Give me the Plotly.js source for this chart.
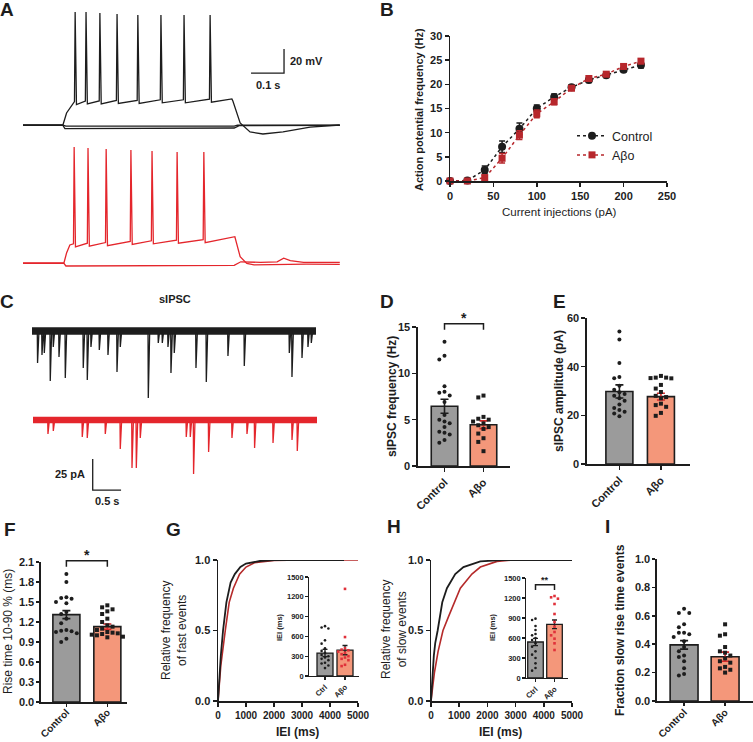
<!DOCTYPE html>
<html>
<head>
<meta charset="utf-8">
<script src="https://cdn.plot.ly/plotly-3.0.1.min.js"></script>
<style>body{margin:0;background:#fff}#chart{width:753px;height:742px}</style>
</head>
<body>
<div id="chart"></div>
<script>
// ---- A: current-clamp sweeps (time s, membrane potential mV) ----
let ctrlSpikeT = [0.158, 0.191, 0.233, 0.285, 0.348, 0.418, 0.488, 0.567];
let ctrlSpikePeak = [24.2, 24.2, 23.3, 22.5, 21.7, 21.7, 21.7, 21.7];
let ctrlSpikeBase = [-50.5, -50, -50, -49.5, -49.5, -49, -49, -48.5];
let ctrlEnvT = [0, 0.121, 0.132, 0.148, 0.633, 0.636, 0.658, 0.688, 0.727, 0.788, 0.87, 0.96];
let ctrlEnvV = [-70, -70, -60, -53, -48.3, -50, -68.3, -75.8, -77.5, -75.8, -71.7, -70];
let ctrlHypT = [0, 0.121, 0.127, 0.64, 0.655, 0.96];
let ctrlHypV = [-70.3, -70.3, -73, -72.5, -70.5, -70.3];
let ctrlSubT = [0, 0.121, 0.13, 0.64, 0.65, 0.96];
let ctrlSubV = [-70.2, -70.2, -71, -71, -70.2, -70.2];

let abSpikeT = [0.155, 0.197, 0.252, 0.327, 0.391, 0.467, 0.548];
let abSpikePeak = [26.7, 25.8, 25.0, 24.2, 23.3, 22.5, 22.5];
let abSpikeBase = [-54, -53.5, -53, -52, -51.5, -51, -50.5];
let abEnvT = [0, 0.124, 0.132, 0.142, 0.642, 0.658, 0.678, 0.70, 0.78, 0.86, 0.96];
let abEnvV = [-70, -70, -61.7, -55, -48.1, -64.7, -70.3, -71.5, -71, -71, -71.2];
let abHypT = [0, 0.124, 0.13, 0.64, 0.66, 0.72, 0.77, 0.79, 0.81, 0.85, 0.96];
let abHypV = [-70.3, -70.3, -72.5, -72, -69, -69.5, -69, -66, -68, -69.5, -69.5];

// ---- B: f-I curve ----
let currents = [0, 20, 40, 60, 80, 100, 120, 140, 160, 180, 200, 220];
let ctrlFreq = [0, 0.1, 2.3, 7.1, 10.8, 15.0, 17.4, 19.4, 20.9, 21.9, 23.0, 24.0];
let ctrlFreqSem = [0, 0.1, 0.8, 1.2, 1.2, 0.7, 0.6, 0.5, 0.5, 0.5, 0.4, 0.6];
let abFreq = [0, 0, 0.7, 4.7, 9.5, 13.9, 16.4, 19.2, 21.2, 22.1, 23.7, 24.8];
let abFreqSem = [0, 0, 0.5, 1.0, 0.9, 0.8, 0.6, 0.5, 0.5, 0.5, 0.4, 0.5];

// ---- C: sIPSC events (time s, amplitude pA) ----
let ctrlEvT = [0.093, 0.171, 0.212, 0.317, 0.370, 0.471, 0.582, 0.899, 0.970, 1.035, 1.182, 1.335, 1.494, 1.552, 2.046, 2.222, 2.293, 2.393, 2.446, 2.504, 2.887, 3.069, 3.451, 3.739, 4.533, 4.580, 4.757, 4.862, 4.921];
let ctrlEvAmp = [-25.8, -19.4, -17.7, -40.3, -12.9, -21.0, -37.9, -29.8, -39.5, -12.9, -15.3, -19.4, -33.1, -12.9, -54.0, -9.7, -9.7, -12.9, -33.9, -17.7, -29.8, -41.1, -20.2, -28.2, -17.7, -37.1, -21.8, -12.9, -9.7];
let abEvT = [0.259, 0.353, 0.864, 0.952, 1.270, 1.534, 1.741, 1.817, 1.887, 2.698, 2.769, 2.827, 3.092, 3.504, 3.769, 3.903, 4.228, 4.563, 4.656];
let abEvAmp = [-11.3, -8.9, -13.7, -14.5, -11.3, -23.4, -38.7, -38.7, -14.5, -13.7, -13.7, -43.5, -25.8, -14.5, -11.3, -22.6, -18.5, -16.1, -25.0];

// ---- D: sIPSC frequency (Hz) ----
let dMean = [6.45, 4.45];
let dSem = [0.75, 0.42];
let dCtrl = [13.4, 11.9, 11.5, 8.6, 8.0, 7.9, 7.6, 6.9, 5.5, 5.0, 4.8, 4.6, 4.2, 3.7, 3.6, 3.4, 2.8, 2.5];
let dAb = [7.6, 7.4, 5.3, 5.1, 5.0, 4.8, 4.6, 4.4, 4.2, 4.0, 3.5, 3.0, 2.6, 1.6];

// ---- E: sIPSC amplitude (pA) ----
let eMean = [29.8, 27.7];
let eSem = [2.7, 1.4];
let eCtrl = [54.5, 51.2, 41.5, 35.8, 35.2, 32.2, 30.5, 29.5, 28.8, 28.0, 27.0, 26.0, 24.5, 23.0, 22.2, 21.5, 20.8, 19.6];
let eAb = [36.2, 35.5, 35.5, 35.3, 35.2, 32.5, 31.0, 29.6, 28.0, 27.5, 27.0, 24.8, 24.2, 23.5, 21.0, 19.8];

// ---- F: rise time 10-90 % (ms) ----
let fMean = [1.31, 1.13];
let fSem = [0.06, 0.04];
let fCtrl = [1.92, 1.80, 1.57, 1.56, 1.55, 1.50, 1.48, 1.35, 1.32, 1.25, 1.18, 1.08, 1.07, 1.06, 1.05, 1.03, 0.95, 0.90];
let fAb = [1.45, 1.42, 1.39, 1.36, 1.32, 1.25, 1.20, 1.15, 1.13, 1.10, 1.08, 1.05, 1.04, 1.03, 1.02, 1.01, 1.00, 0.98, 0.97];

// ---- G: fast events, cumulative IEI ----
let gCtrlIei = [0, 50, 100, 180, 300, 450, 600, 800, 1000, 1500, 2000, 4500];
let gCtrlCum = [0, 0.17, 0.32, 0.5, 0.7, 0.84, 0.9, 0.95, 0.975, 0.993, 1, 1];
let gAbIei = [0, 50, 100, 260, 400, 550, 770, 1000, 1300, 2000, 3000, 5000];
let gAbCum = [0, 0.13, 0.25, 0.5, 0.7, 0.8, 0.9, 0.95, 0.98, 0.997, 1, 1];
let giMean = [348, 392];
let giSem = [55, 70];
let giCtrl = [755, 735, 720, 540, 490, 420, 380, 350, 320, 300, 280, 260, 240, 200, 190, 160, 120];
let giAb = [1320, 590, 420, 400, 390, 370, 350, 330, 300, 280, 260, 240, 170, 150];

// ---- H: slow events, cumulative IEI ----
let hCtrlIei = [0, 50, 100, 150, 236, 400, 565, 860, 1150, 1750, 2500, 5000];
let hCtrlCum = [0, 0.2, 0.32, 0.41, 0.5, 0.7, 0.8, 0.9, 0.95, 0.99, 1, 1];
let hAbIei = [0, 50, 120, 250, 425, 625, 825, 1040, 1450, 1750, 2340, 2900, 5000];
let hAbCum = [0, 0.1, 0.2, 0.35, 0.5, 0.6, 0.7, 0.8, 0.9, 0.95, 0.99, 1, 1];
let hiMean = [540, 805];
let hiSem = [55, 65];
let hiCtrl = [890, 870, 780, 720, 660, 640, 600, 570, 520, 470, 400, 350, 300, 220, 150, 110];
let hiAb = [1230, 1210, 1190, 1110, 960, 840, 770, 690, 640, 590, 520, 420];

// ---- I: fraction of slow rise time events ----
let iMean = [0.395, 0.312];
let iSem = [0.03, 0.032];
let iCtrl = [0.65, 0.62, 0.62, 0.54, 0.52, 0.48, 0.48, 0.47, 0.45, 0.42, 0.38, 0.35, 0.32, 0.31, 0.28, 0.23, 0.19, 0.18];
let iAb = [0.54, 0.47, 0.46, 0.38, 0.35, 0.34, 0.32, 0.30, 0.28, 0.27, 0.24, 0.23, 0.22, 0.20];

let groups = ['Control', 'A\u03b2o'];
let groupsShort = ['Ctrl', 'A\u03b2o'];

const W = 753, H = 742;
const FONT = 'Liberation Sans, Arial, sans-serif';
const INK = '#1d1d1d', GREY = '#9b9b9b', SALMON = '#f4977a';
const RED = '#e4262c', BRICK = '#b7272c', DOTRED = '#e0313a';

let layout = {
    width: W, height: H,
    margin: {l: 0, r: 0, t: 0, b: 0},
    paper_bgcolor: '#fff', plot_bgcolor: 'rgba(0,0,0,0)',
    barmode: 'overlay',
    font: {family: FONT, color: INK},
    showlegend: true,
    legend: {x: 572 / W, y: 1 - 121 / H, xanchor: 'left', yanchor: 'top', bgcolor: 'rgba(0,0,0,0)',
        font: {family: FONT, size: 12.5, color: INK}, tracegroupgap: 0, itemwidth: 30},
    shapes: [], annotations: []
};
let data = [];

// panel boxes in pixels, with their data ranges
let panels = {
    A1: {px: [23, 340], py: [5, 145], xr: [0, 317 / 330], yr: [-70 - 20 / 1.2, -70 + 120 / 1.2]},
    A2: {px: [23, 340], py: [140, 280], xr: [0, 317 / 330], yr: [-70 - 17 / 1.2, -70 + 123 / 1.2]},
    B: {px: [450, 667], py: [36, 181], xr: [0, 250], yr: [0, 30]},
    C1: {px: [32, 316], py: [308, 402], xr: [0, 284 / 56.7], yr: [-71 / 1.24, 23 / 1.24]},
    C2: {px: [33, 317], py: [400, 495], xr: [0, 284 / 56.7], yr: [-75 / 1.24, 20 / 1.24]},
    D: {px: [418, 510], py: [327, 466], xr: [-0.68, 1.68], yr: [0, 15]},
    E: {px: [587, 690], py: [318, 464], xr: [-0.78, 1.7], yr: [0, 60]},
    F: {px: [41, 127], py: [562, 702], xr: [-0.62, 1.48], yr: [0, 2.1]},
    G: {px: [218, 358], py: [560, 701], xr: [0, 5000], yr: [0, 1]},
    Gi: {px: [309, 359], py: [577, 676], xr: [-0.8, 1.7], yr: [0, 1500]},
    Hm: {px: [431, 572], py: [560, 701], xr: [0, 5000], yr: [0, 1]},
    Hi: {px: [526, 568], py: [578, 678], xr: [-0.5, 1.71], yr: [0, 1500]},
    I: {px: [657, 753], py: [559, 701], xr: [-0.66, 1.68], yr: [0, 1]}
};

function axStyle(fs) {
    return {showline: true, linecolor: INK, linewidth: 1.5, ticks: 'outside', ticklen: 4, tickwidth: 1.5,
        tickcolor: INK, showgrid: false, zeroline: false, fixedrange: true,
        tickfont: {family: FONT, size: fs, color: INK, weight: 'bold'}};
}

let n = 0;
Object.keys(panels).forEach(k => {
    n++;
    let p = panels[k];
    p.xa = n === 1 ? 'x' : 'x' + n;
    p.ya = n === 1 ? 'y' : 'y' + n;
    layout[n === 1 ? 'xaxis' : 'xaxis' + n] = Object.assign(axStyle(11), {domain: [p.px[0] / W, p.px[1] / W], range: p.xr, anchor: p.ya});
    layout[n === 1 ? 'yaxis' : 'yaxis' + n] = Object.assign(axStyle(11), {domain: [1 - p.py[1] / H, 1 - p.py[0] / H], range: p.yr, anchor: p.xa});
    p.xk = n === 1 ? 'xaxis' : 'xaxis' + n;
    p.yk = n === 1 ? 'yaxis' : 'yaxis' + n;
});
['A1', 'A2', 'C1', 'C2'].forEach(k => {
    layout[panels[k].xk].visible = false;
    layout[panels[k].yk].visible = false;
});

function pxX(p, v) { return p.px[0] + (v - p.xr[0]) / (p.xr[1] - p.xr[0]) * (p.px[1] - p.px[0]); }
function pxY(p, v) { return p.py[1] - (v - p.yr[0]) / (p.yr[1] - p.yr[0]) * (p.py[1] - p.py[0]); }

function note(text, x, y, o) {
    layout.annotations.push(Object.assign({text: text, x: x / W, y: 1 - y / H, xref: 'paper', yref: 'paper',
        showarrow: false, xanchor: 'center', yanchor: 'middle',
        font: {family: FONT, size: 11, color: INK, weight: 'bold'}}, o || {}));
}

// ---- A ----
function buildSweep(envT, envV, spT, spPeak, spBase) {
    let pts = envT.map((t, i) => [t, envV[i]]);
    spT.forEach((t, i) => {
        pts.push([t - 0.002, spBase[i]], [t, spPeak[i]], [t + 0.004, spBase[i] - 2.5]);
    });
    pts.sort((a, b) => a[0] - b[0]);
    return {x: pts.map(q => q[0]), y: pts.map(q => q[1])};
}
function line(p, x, y, color, width, extra) {
    return Object.assign({type: 'scatter', mode: 'lines', x: x, y: y, xaxis: p.xa, yaxis: p.ya,
        line: {color: color, width: width}, showlegend: false, hoverinfo: 'skip'}, extra || {});
}
let cs = buildSweep(ctrlEnvT, ctrlEnvV, ctrlSpikeT, ctrlSpikePeak, ctrlSpikeBase);
let as = buildSweep(abEnvT, abEnvV, abSpikeT, abSpikePeak, abSpikeBase);
data.push(line(panels.A1, ctrlSubT, ctrlSubV, INK, 1.3));
data.push(line(panels.A1, ctrlHypT, ctrlHypV, INK, 1.3));
data.push(line(panels.A1, cs.x, cs.y, INK, 1.3));
data.push(line(panels.A2, abHypT, abHypV, RED, 1.3));
data.push(line(panels.A2, as.x, as.y, RED, 1.3));

// scale bar 0.1 s / 20 mV
let sbT = 0.791, sbV = -26.7;
layout.shapes.push({type: 'path', xref: panels.A1.xa, yref: panels.A1.ya,
    path: `M ${sbT - 0.1} ${sbV} L ${sbT} ${sbV} L ${sbT} ${sbV + 20}`, line: {color: INK, width: 1.3}});
note('20 mV', 288, 61, {xanchor: 'left'});
note('0.1 s', 268, 85);

// ---- C ----
function buildEvents(evT, evAmp, tEnd) {
    let x = [0], y = [0];
    evT.forEach((t, i) => { x.push(t, t + 0.005, t + 0.03); y.push(0, evAmp[i], 0); });
    x.push(tEnd); y.push(0);
    return {x: x, y: y};
}
let tEnd = 284 / 56.7;
data.push(line(panels.C1, [0, tEnd], [0, 0], INK, 7.5));
let ce = buildEvents(ctrlEvT, ctrlEvAmp, tEnd);
data.push(line(panels.C1, ce.x, ce.y, INK, 1.3));
data.push(line(panels.C2, [0, tEnd], [0, 0], RED, 6.5));
let ae = buildEvents(abEvT, abEvAmp, tEnd);
data.push(line(panels.C2, ae.x, ae.y, RED, 1.3));
// scale bar 0.5 s / 25 pA
let cbT = 1.053, cbV = -56.5;
layout.shapes.push({type: 'path', xref: panels.C2.xa, yref: panels.C2.ya,
    path: `M ${cbT} ${cbV + 25} L ${cbT} ${cbV} L ${cbT + 0.5} ${cbV}`, line: {color: INK, width: 1.3}});
note('25 pA', 70, 474);
note('0.5 s', 107, 501);
note('sIPSC', 175, 299);

// ---- B ----
let pB = panels.B;
data.push({type: 'scatter', mode: 'lines+markers', name: 'Control', x: currents, y: ctrlFreq, xaxis: pB.xa, yaxis: pB.ya,
    line: {color: INK, width: 1.5, dash: 'dot'}, marker: {symbol: 'circle', size: 8, color: INK},
    error_y: {type: 'data', array: ctrlFreqSem, color: INK, thickness: 1.5, width: 3}, cliponaxis: false});
data.push({type: 'scatter', mode: 'lines+markers', name: 'A\u03b2o', x: currents, y: abFreq, xaxis: pB.xa, yaxis: pB.ya,
    line: {color: BRICK, width: 1.5, dash: 'dot'}, marker: {symbol: 'square', size: 7, color: BRICK},
    error_y: {type: 'data', array: abFreqSem, color: BRICK, thickness: 1.5, width: 3}, cliponaxis: false});
Object.assign(layout[pB.xk], {tickvals: [0, 50, 100, 150, 200, 250]});
Object.assign(layout[pB.yk], {tickvals: [0, 5, 10, 15, 20, 25, 30]});
note('Action potential frequency (Hz)', 419, 109, {textangle: -90});
note('Current injections (pA)', 559, 212, {font: {family: FONT, size: 11.5, color: INK}});

// ---- bar panels ----
function swarm(p, vals, center, dotPx) {
    let sx = (p.px[1] - p.px[0]) / (p.xr[1] - p.xr[0]);
    let placed = [];
    return vals.map(v => {
        let yy = pxY(p, v);
        for (let k = 0; k < 30; k++) {
            let off = (k % 2 ? -1 : 1) * Math.ceil(k / 2) * dotPx;
            let xx = pxX(p, center) + off;
            if (placed.every(q => Math.hypot(q[0] - xx, q[1] - yy) >= dotPx)) {
                placed.push([xx, yy]);
                return center + off / sx;
            }
        }
        return center;
    });
}
function barPanel(p, means, sems, ctrlVals, abVals, o) {
    [0, 1].forEach(i => {
        data.push({type: 'bar', x: [i], y: [means[i]], width: o.bw, xaxis: p.xa, yaxis: p.ya,
            marker: {color: i ? SALMON : GREY, line: {color: INK, width: o.lw}},
            error_y: {type: 'data', array: [sems[i]], color: i ? o.abErr : INK, thickness: o.lw, width: o.cap},
            showlegend: false, hoverinfo: 'skip'});
    });
    data.push({type: 'scatter', mode: 'markers', x: swarm(p, ctrlVals, 0, o.dot + o.gap), y: ctrlVals,
        xaxis: p.xa, yaxis: p.ya, marker: {symbol: 'circle', size: o.dot, color: INK},
        cliponaxis: false, showlegend: false, hoverinfo: 'skip'});
    data.push({type: 'scatter', mode: 'markers', x: swarm(p, abVals, 1, o.dot + o.gap), y: abVals,
        xaxis: p.xa, yaxis: p.ya, marker: {symbol: 'square', size: o.dot, color: o.abDot},
        cliponaxis: false, showlegend: false, hoverinfo: 'skip'});
    Object.assign(layout[p.xk], {tickvals: [0, 1], ticktext: o.labels, tickangle: -45,
        tickfont: {family: FONT, size: o.xfs, color: INK, weight: 'bold'}, ticklen: o.tl, tickwidth: o.lw, linewidth: o.lw,
        ticklabelstandoff: o.so || 0});
    Object.assign(layout[p.yk], {tickfont: {family: FONT, size: o.fs, color: INK, weight: 'bold'}, ticklen: o.tl, tickwidth: o.lw, linewidth: o.lw});
}
let mainBar = {bw: 0.68, lw: 1.6, cap: 4, dot: 4, gap: 1.2, abErr: '#d62a2a', abDot: INK, labels: groups, fs: 11, xfs: 11, tl: 4};
barPanel(panels.D, dMean, dSem, dCtrl, dAb, mainBar);
barPanel(panels.E, eMean, eSem, eCtrl, eAb, Object.assign({}, mainBar, {bw: 0.65}));
barPanel(panels.F, fMean, fSem, fCtrl, fAb, Object.assign({}, mainBar, {bw: 0.66, xfs: 10, tl: 3, so: -4}));
barPanel(panels.I, iMean, iSem, iCtrl, iAb, Object.assign({}, mainBar, {bw: 0.68, xfs: 10, tl: 3, so: -3}));
Object.assign(layout[panels.D.yk], {tickvals: [0, 5, 10, 15]});
Object.assign(layout[panels.E.yk], {tickvals: [0, 20, 40, 60]});
Object.assign(layout[panels.F.yk], {tickvals: [0, 0.3, 0.6, 0.9, 1.2, 1.5, 1.8, 2.1], tickformat: '.1f'});
Object.assign(layout[panels.I.yk], {tickvals: [0, 0.2, 0.4, 0.6, 0.8, 1.0], tickformat: '.1f'});

// ---- G / H cumulative plots ----
function cumPanel(p, cx, cy, ax, ay, blackLast) {
    let r = line(p, ax, ay, '#b52a2a', 1.6);
    let b = line(p, cx, cy, INK, 1.8);
    if (blackLast) { data.push(r, b); } else { data.push(b, r); }
    Object.assign(layout[p.xk], {tickvals: [0, 1000, 2000, 3000, 4000, 5000], tickfont: {family: FONT, size: 10, color: INK, weight: 'bold'}});
    Object.assign(layout[p.yk], {tickvals: [0, 0.5, 1], tickformat: '.1f'});
}
cumPanel(panels.G, gCtrlIei, gCtrlCum, gAbIei, gAbCum, true);
cumPanel(panels.Hm, hCtrlIei, hCtrlCum, hAbIei, hAbCum, true);
let insetBar = {bw: 0.8, lw: 1.3, cap: 2.5, dot: 2.6, gap: 0.8, abErr: INK, abDot: DOTRED, labels: groupsShort, fs: 7.5, xfs: 7.5, tl: 2.5};
barPanel(panels.Gi, giMean, giSem, giCtrl, giAb, insetBar);
barPanel(panels.Hi, hiMean, hiSem, hiCtrl, hiAb, Object.assign({}, insetBar, {bw: 0.82}));
[panels.Gi, panels.Hi].forEach(p => Object.assign(layout[p.yk], {tickvals: [0, 300, 600, 900, 1200, 1500]}));

// ---- significance brackets ----
function bracket(p, v, leg, star, size, gap) {
    let x0 = pxX(p, 0), x1 = pxX(p, 1), yt = pxY(p, v), yb = pxY(p, v - leg);
    layout.shapes.push({type: 'path', xref: 'paper', yref: 'paper',
        path: `M ${x0 / W} ${1 - yb / H} L ${x0 / W} ${1 - yt / H} L ${x1 / W} ${1 - yt / H} L ${x1 / W} ${1 - yb / H}`,
        line: {color: INK, width: 1.5}});
    note(star, (x0 + x1) / 2, yt - gap, {font: {family: FONT, size: size, color: INK, weight: 'bold'}});
}
bracket(panels.D, 15.35, 0.65, '*', 14, 6);
bracket(panels.F, 2.12, 0.09, '*', 14, 6);
bracket(panels.Hi, 1400, 80, '**', 9, 5);

// ---- axis titles ----
note('sIPSC frequency (Hz)', 392, 397, {textangle: -90, font: {family: FONT, size: 12, color: INK, weight: 'bold'}});
note('sIPSC amplitude (pA)', 559, 391, {textangle: -90, font: {family: FONT, size: 12, color: INK, weight: 'bold'}});
note('Rise time 10-90 % (ms)', 8, 632, {textangle: -90, font: {family: FONT, size: 12, color: INK}});
note('Relative frequency<br>of fast events', 174, 631, {textangle: -90, font: {family: FONT, size: 12, color: INK}});
note('Relative frequency<br>of slow events', 394, 630, {textangle: -90, font: {family: FONT, size: 12, color: INK}});
note('Fraction slow rise time events', 620, 630, {textangle: -90, font: {family: FONT, size: 12, color: INK, weight: 'bold'}});
note('IEI (ms)', 297, 732, {font: {family: FONT, size: 12, color: INK, weight: 'bold'}});
note('IEI (ms)', 500, 732, {font: {family: FONT, size: 12, color: INK, weight: 'bold'}});
note('IEI (ms)', 279, 627, {textangle: -90, font: {family: FONT, size: 7.5, color: INK, weight: 'bold'}});
note('IEI (ms)', 492, 627, {textangle: -90, font: {family: FONT, size: 7.5, color: INK, weight: 'bold'}});

// ---- panel letters ----
let letters = ['A', 'B', 'C', 'D', 'E', 'F', 'G', 'H', 'I'];
let letterX = [7, 387, 7, 387, 559, 10, 173, 394, 607];
let letterY = [9, 9, 301, 301, 301, 529, 529, 526, 526];
letters.forEach((l, i) => note(l, letterX[i], letterY[i], {font: {family: FONT, size: 19, color: INK, weight: 'bold'}}));

Plotly.newPlot('chart', data, layout, {staticPlot: true});
</script>
</body>
</html>
